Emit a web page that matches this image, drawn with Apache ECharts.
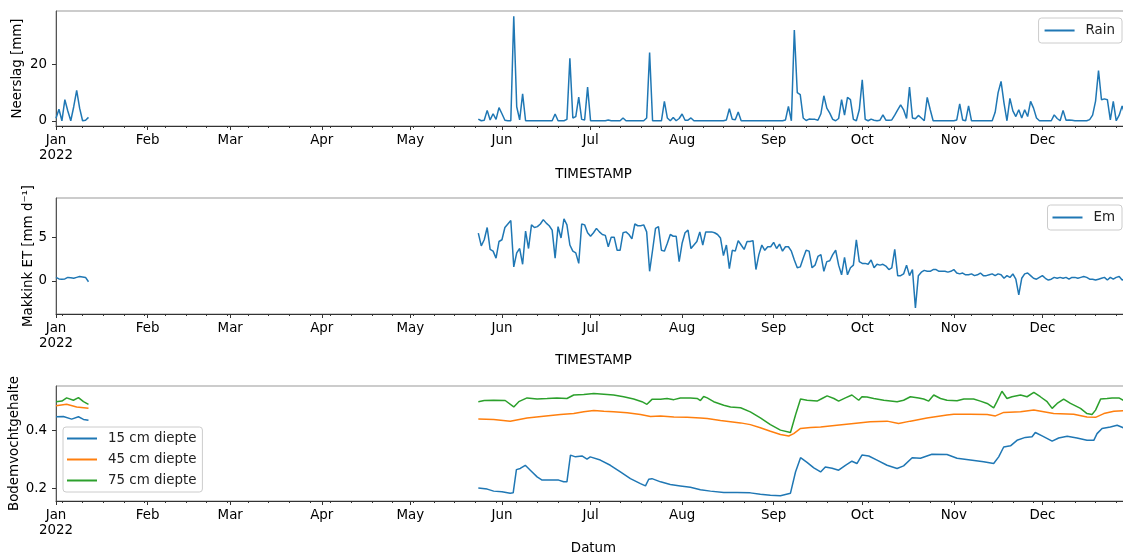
<!DOCTYPE html>
<html><head><meta charset="utf-8">
<script src="https://cdn.jsdelivr.net/npm/echarts@6/dist/echarts.min.js"></script>
<style>html,body{margin:0;padding:0;background:#fff}#c{width:1123px;height:557px}</style>
</head><body><div id="c"></div>
<script>
// ---- tick labels / categories ----
const monthLabels = ['Jan\n2022','Feb','Mar','Apr','May','Jun','Jul','Aug','Sep','Oct','Nov','Dec'];
const monthStartDays = [0,31,59,90,120,151,181,212,243,273,304,334];
const rainTicks = [0, 20];
const etTicks = [0, 5];
const soilTicks = [0.2, 0.4];
const seriesNames = ['Rain','Em','15 cm diepte','45 cm diepte','75 cm diepte'];

// ---- daily rain [mm], Jan segment starts at day 0, main segment at day 143 ----
const rainJanStart = 0;
const rainJan = [0.9,4.1,0,7.5,3.5,0,5,10.8,4.5,0,0.2,1.2];
const rainMainStart = 143;
const rainMain = [
0.6,0,0.2,3.7,0.3,2.5,0.5,4.7,2.5,0.2,0,0,37.2,5,0.3,9.6,0,
0,0,0,0,0,0,0,0,0,2.4,0,0,0,0.5,22.2,1,1.5,8.4,0.5,0.3,12,0,
0,0,0,0,0,0.3,0,0,0,0,1,0,0,0,0,0,0,0,1,24.3,0,0,0,0,6.9,1,0,1.2,0,0.8,2.4,0.2,0.2,1,0,
0,0,0,0,0,0,0,0,0,0,0.3,4.3,0.5,0.4,3.1,0,
0,0,0,0,0,0,0,0,0,0,0,0,0,0,0.3,5.1,0,32.3,10,9.3,1,0.1,0.6,0.5,0.5,0.2,
2.5,8.9,4.5,2.7,0.5,0,0.8,7.5,2,8.3,7.5,0.5,0,3.9,14.6,0.5,0,0.6,0.2,0,0.2,2.1,0.2,0.2,0.3,
2,3.9,5.7,3.9,0.8,12,1,0.7,1.9,1,0,8.3,4,0,
0,0,0,0,0,0,0,0.3,6,0.3,0,5.3,0,0,0,0,0,0,0,0,
3,10,14,6.3,0,8,3.5,1.5,3.9,1,3.9,1.5,6.9,4.5,1,0,0,0,0,0,2.1,0.8,0,3.7,0.2,0.3,0.2,
0,0,0,0,0,0.4,2,7,17.9,7.5,7.8,7.5,0.3,6.9,0,2,5.3,2,0.5,1
];

// ---- daily Makkink ET [mm/d] ----
const etJanStart = 0;
const etJan = [0.4,0.23,0.2,0.23,0.4,0.35,0.3,0.4,0.5,0.45,0.4,-0.1];
const etMainStart = 143;
const etMain = [
5.46,4.0,4.7,6.1,3.6,3.4,2.6,4.5,4.7,6.1,6.5,6.9,1.6,3.2,3.7,1.9,5.7,3.7,6.4,6.1,
6.2,6.5,7.0,6.6,6.3,5.8,2.6,6.2,4.9,7.1,6.4,4.1,3.4,3.2,2.0,6.5,6.4,5.5,5.1,5.5,
6.0,5.6,5.3,5.2,3.9,5.0,5.0,3.5,3.5,5.5,5.6,5.3,4.8,6.5,6.3,6.3,6.4,5.6,1.1,3.5,
6.0,6.2,3.5,3.4,4.3,5.3,5.1,5.1,2.2,4.3,5.5,5.8,3.7,4.1,4.5,5.6,4.1,5.6,5.6,5.6,
5.5,5.3,4.9,2.9,4.1,1.4,3.5,3.4,4.6,4.1,3.6,4.5,4.5,4.6,1.3,3.0,4.1,3.5,3.9,3.9,
4.4,3.7,4.2,3.4,3.9,3.9,3.4,2.4,1.5,1.6,2.6,3.5,3.4,1.5,1.8,2.8,
3.0,1.1,2.2,2.3,3.0,3.5,1.8,0.7,2.7,0.7,1.5,1.8,4.7,2.2,2.0,2.0,1.9,2.4,1.5,1.9,
1.8,1.9,1.7,1.3,1.5,3.6,0.6,0.6,0.8,1.8,0.6,1.3,-3.1,0.6,1.0,1.2,1.1,1.1,1.3,1.3,
1.1,1.1,1.1,1.0,1.1,1.3,0.9,0.8,0.9,0.7,0.7,0.8,0.6,0.7,0.9,0.6,0.6,0.7,0.8,0.6,
0.8,0.7,0.3,0.6,0.4,0.8,0.2,-1.6,0.3,0.8,0.9,0.6,0.3,0.2,0.4,0.6,0.3,0.1,0.2,0.4,
0.3,0.4,0.3,0.4,0.2,0.4,0.4,0.3,0.4,0.5,0.4,0.2,0.2,0.1,0.2,0.3,0.4,0.1,0.4,0.2,
0.4,0.5,0.1,0.3,0.4,0.3
];

// ---- soil moisture readings [dayOfYear, value]; null marks the data gap ----
const soil15 = [
[0,0.447],[2.5,0.448],[5.3,0.439],[7.6,0.447],[9.3,0.438],[11,0.435],null,
[143,0.202],[146,0.198],[148.2,0.191],[151,0.189],[153.8,0.184],[154.8,0.185],[155.9,0.265],
[157.2,0.269],[158.9,0.280],[160.6,0.263],[162.9,0.240],[164.6,0.229],[167.4,0.229],[170.2,0.229],
[171.9,0.223],[173,0.223],[174.2,0.315],[175.9,0.309],[178.1,0.312],[179.8,0.301],[180.9,0.309],
[184.3,0.298],[187.7,0.280],[191.1,0.257],[194.5,0.234],[197.9,0.217],[199.6,0.209],[200.7,0.232],
[201.8,0.234],[204.7,0.223],[208,0.214],[211.4,0.209],[214.8,0.204],[218.2,0.196],[221.6,0.191],
[226.1,0.186],[230.6,0.186],[235.1,0.185],[238.5,0.180],[241.9,0.177],[245.3,0.175],[248.7,0.184],
[250.4,0.257],[252.1,0.306],[254.3,0.290],[256.6,0.271],[258.9,0.257],[260.5,0.274],[262.8,0.270],
[265,0.263],[267.3,0.280],[269.5,0.294],[271.2,0.286],[272.9,0.315],[275.2,0.312],[278,0.298],
[281.4,0.280],[284.8,0.269],[287,0.278],[289.9,0.306],[292.7,0.304],[296.6,0.318],[301.7,0.317],
[305.1,0.304],[309.6,0.298],[314.1,0.292],[317.5,0.286],[319.2,0.309],[320.9,0.343],[323.2,0.347],
[325.4,0.366],[328.2,0.376],[330.5,0.378],[331.6,0.393],[333.9,0.381],[337.3,0.363],[339.5,0.374],
[342.4,0.380],[345.7,0.374],[349.1,0.366],[351.4,0.366],[352.5,0.389],[354.2,0.407],[357,0.412],
[359.3,0.418],[361.4,0.409],[364,0.410]
];
const soil45 = [
[0,0.485],[3.6,0.490],[7,0.481],[11,0.476],null,
[143,0.439],[148.2,0.438],[153.8,0.432],[159.5,0.443],[165.1,0.449],[170.8,0.455],[175.3,0.458],
[178.7,0.464],[182.1,0.469],[185.5,0.466],[188.8,0.464],[193.4,0.461],[197.9,0.455],[201.3,0.448],
[204.7,0.450],[209.2,0.446],[213.7,0.445],[218.2,0.443],[220.5,0.441],[225,0.434],[228.4,0.430],
[231.8,0.426],[235.1,0.420],[238.5,0.409],[241.9,0.397],[245.3,0.386],[248.1,0.381],[249.8,0.389],
[252.1,0.407],[255.5,0.410],[258.9,0.412],[264.4,0.418],[270.1,0.424],[275.7,0.430],[281.4,0.432],
[285.3,0.424],[289.3,0.432],[294.9,0.443],[301.7,0.453],[304,0.456],[309.6,0.456],[315.3,0.455],
[318.1,0.450],[320.9,0.462],[326.6,0.464],[331.1,0.470],[337.8,0.458],[344.6,0.456],[349.1,0.446],
[352,0.445],[354.8,0.458],[358.2,0.466],[361.4,0.468],[364,0.468]
];
const soil75 = [
[0,0.499],[2,0.501],[3.6,0.512],[5.9,0.504],[7.6,0.513],[9.3,0.499],[11,0.490],null,
[143,0.499],[145,0.503],[148.2,0.504],[152.1,0.503],[155,0.481],[156.7,0.499],[159.5,0.512],
[162.9,0.508],[166.3,0.510],[169.6,0.512],[173,0.510],[175.3,0.522],[178.7,0.524],[182.1,0.527],
[185.5,0.525],[188.8,0.522],[192.2,0.516],[195.6,0.508],[198.4,0.499],[200.1,0.490],[201.8,0.507],
[204.7,0.507],[206.9,0.510],[209.2,0.506],[211.4,0.512],[214.8,0.512],[217.1,0.510],[218.2,0.503],
[219.3,0.517],[220.5,0.512],[222.7,0.499],[226.1,0.487],[228.4,0.481],[231.8,0.478],[235.1,0.464],
[238.5,0.443],[241.9,0.420],[245.3,0.401],[248.7,0.393],[250.4,0.453],[252.1,0.508],[254.3,0.504],
[257.7,0.501],[259.4,0.510],[261.1,0.519],[263.4,0.510],[265,0.501],[267.3,0.512],[269.5,0.522],
[271.8,0.504],[272.9,0.516],[274.6,0.515],[276.9,0.510],[280.3,0.504],[284.8,0.499],[287,0.504],
[289.3,0.516],[292.1,0.512],[293.8,0.508],[295.5,0.501],[297.2,0.522],[299.5,0.510],[301.7,0.504],
[305.1,0.502],[307.4,0.508],[310.7,0.508],[313,0.501],[315.3,0.493],[317.5,0.478],[318.6,0.499],
[320.3,0.535],[322,0.510],[323.7,0.516],[326.6,0.522],[328.8,0.516],[331.1,0.531],[333.3,0.516],
[335.6,0.499],[337.3,0.476],[339,0.493],[341.2,0.508],[343.5,0.493],[346.9,0.476],[349.1,0.458],
[350.8,0.455],[352,0.470],[353.7,0.508],[355.9,0.510],[357.6,0.512],[358.2,0.508],[359.9,0.512],
[361.4,0.504],[364,0.505]
];

// ---- helpers ----
const BASE = Date.UTC(2022,0,1);
const DAY = 86400000;
const ts = d => BASE + d*DAY;
function dailyPairs(s1, a1, s2, a2) {
  const out = a1.map((v,i)=>[ts(s1+i), v]);
  out.push([ts(s1+a1.length), '-']);
  a2.forEach((v,i)=>out.push([ts(s2+i), v]));
  return out;
}
function readingPairs(arr) {
  return arr.map(p => p === null ? [ts(12), '-'] : [ts(p[0]), p[1]]);
}
const monthTicks = monthStartDays.map(ts);
const mondayTicks = [];
for (let d = 2; d <= 364; d += 7) mondayTicks.push(ts(d));
const X_MIN = ts(0), X_MAX = ts(364);

const FONT = 'DejaVu Sans';
const FS = 13.4;
const grids = [
  {left:56, width:1075, top:11, height:115},
  {left:56, width:1075, top:198, height:116},
  {left:56, width:1075, top:386, height:115}
];
const xNames = ['TIMESTAMP','TIMESTAMP','Datum'];
const xNameGaps = [42, 40, 41];
const yDefs = [
  {name:'Neerslag [mm]', min:-1.86, max:39.07, ticks:rainTicks, gap:32, fmt:v=>String(v)},
  {name:'Makkink ET [mm d\u207B\u00B9]', min:-3.78, max:9.47, ticks:etTicks, gap:21, fmt:v=>String(v)},
  {name:'Bodemvochtgehalte', min:0.157, max:0.553, ticks:soilTicks, gap:35, fmt:v=>v.toFixed(1)}
];

const xAxes = [], yAxes = [];
grids.forEach((g,i)=>{
  xAxes.push({
    type:'value', gridIndex:i, min:X_MIN, max:X_MAX, position:'bottom',
    name:xNames[i], nameLocation:'middle', nameGap:xNameGaps[i], nameMoveOverlap:false,
    nameTextStyle:{fontFamily:FONT, fontSize:FS, color:'#000'},
    axisLine:{show:true, onZero:false, lineStyle:{color:'#333', width:1}},
    axisTick:{show:true, length:4, customValues:monthTicks, lineStyle:{color:'#333'}},
    axisLabel:{show:true, customValues:monthTicks, margin:7, fontFamily:FONT, fontSize:FS, color:'#000', lineHeight:15,
      formatter:v=>{ const k = monthTicks.indexOf(v); return k>=0 ? monthLabels[k] : ''; }},
    splitLine:{show:false}
  });
  xAxes.push({
    type:'value', gridIndex:i, min:X_MIN, max:X_MAX, position:'bottom',
    axisLine:{show:false, onZero:false},
    axisTick:{show:true, length:2, customValues:mondayTicks, lineStyle:{color:'#333'}},
    axisLabel:{show:false},
    splitLine:{show:false}
  });
  const y = yDefs[i];
  yAxes.push({
    type:'value', gridIndex:i, min:y.min, max:y.max, position:'left',
    name:y.name, nameLocation:'middle', nameGap:y.gap, nameMoveOverlap:false,
    nameTextStyle:{fontFamily:FONT, fontSize:FS, color:'#000'},
    axisLine:{show:true, onZero:false, lineStyle:{color:'#555', width:1}},
    axisTick:{show:true, length:4, customValues:y.ticks, lineStyle:{color:'#333'}},
    axisLabel:{show:true, customValues:y.ticks, margin:9, fontFamily:FONT, fontSize:FS, color:'#000', formatter:y.fmt},
    splitLine:{show:false}
  });
});

const COLORS = ['#1f77b4','#ff7f0e','#2ca02c'];
function lineSeries(name, xi, yi, color, data) {
  return {name, type:'line', xAxisIndex:xi, yAxisIndex:yi, data, showSymbol:false, symbol:'none',
    connectNulls:false, lineStyle:{color, width:1.5}, itemStyle:{color}, clip:true};
}
const series = [
  lineSeries(seriesNames[0], 0, 0, COLORS[0], dailyPairs(rainJanStart, rainJan, rainMainStart, rainMain)),
  lineSeries(seriesNames[1], 2, 1, COLORS[0], dailyPairs(etJanStart, etJan, etMainStart, etMain)),
  lineSeries(seriesNames[2], 4, 2, COLORS[0], readingPairs(soil15)),
  lineSeries(seriesNames[3], 4, 2, COLORS[1], readingPairs(soil45)),
  lineSeries(seriesNames[4], 4, 2, COLORS[2], readingPairs(soil75))
];

const ICON = 'path://M0,0H30V2H0Z';
const legendBase = {
  icon:ICON, itemWidth:30, itemHeight:2, borderColor:'#ccc', borderWidth:1, borderRadius:3,
  backgroundColor:'rgba(255,255,255,0.8)',
  textStyle:{fontFamily:FONT, fontSize:FS, color:'#222', lineHeight:15, padding:[0,0,0,6]},
  selectedMode:false
};
const legends = [
  Object.assign({}, legendBase, {data:[seriesNames[0]], right:1, top:18, padding:[5,7,5,6]}),
  Object.assign({}, legendBase, {data:[seriesNames[1]], right:1, top:205, padding:[5,7,5,5]}),
  Object.assign({}, legendBase, {data:seriesNames.slice(2), left:63, top:427, orient:'vertical', itemGap:6, padding:[4,6,4,4]})
];

const chart = echarts.init(document.getElementById('c'), null, {renderer:'canvas'});
chart.setOption({
  animation:false,
  backgroundColor:'#fff',
  grid: grids.map(g=>Object.assign({show:true, borderColor:'#999', borderWidth:1, containLabel:false, outerBoundsMode:'none'}, g)),
  xAxis:xAxes, yAxis:yAxes, legend:legends, series
});
</script></body></html>
